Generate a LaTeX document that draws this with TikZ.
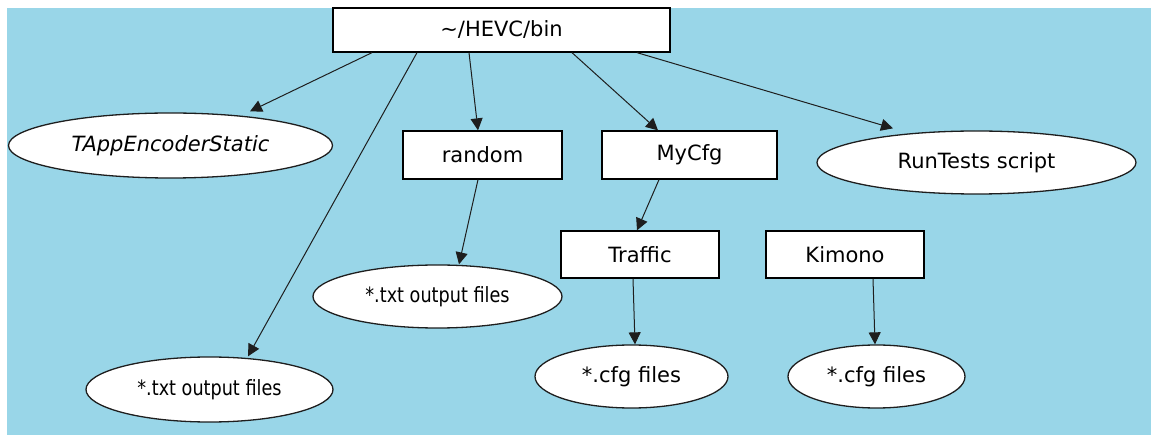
\documentclass[tikz,border=0pt]{standalone}
\usepackage{fontspec}
\usepackage{graphicx}
\setmainfont{DejaVu Sans}
\usetikzlibrary{shapes.geometric,arrows.meta}
\definecolor{bgblue}{RGB}{153,214,232}
\definecolor{edgegray}{RGB}{30,30,30}
\newcommand{\narrowtext}[1]{\scalebox{0.84}[1]{#1}}
\tikzset{
  folder/.style={draw=black, line width=1.3pt, fill=white, rectangle,
    inner sep=0pt, font=\fontsize{21}{25}\selectfont},
  fileset/.style={draw=edgegray, line width=1.3pt, fill=white, ellipse,
    inner sep=0pt, font=\fontsize{21}{25}\selectfont},
  link/.style={draw=edgegray, line width=1pt,
    -{Triangle[length=12pt,width=12pt]}}
}
\begin{document}
\begin{tikzpicture}[x=1pt,y=-1pt]
  \useasboundingbox (0,0) rectangle (1151,435);
  \fill[bgblue] (7,8) rectangle (1151,435);

  % directory tree
  \node[folder, minimum width=337pt, minimum height=44pt] (bin) at (501.5,30) {\textasciitilde/HEVC/bin};
  \node[fileset, minimum width=324pt, minimum height=65pt] (tapp) at (170.5,145.5) {\itshape TAppEncoderStatic};
  \node[folder, minimum width=159pt, minimum height=48pt] (random) at (482.5,155) {random};
  \node[folder, minimum width=175pt, minimum height=48pt] (mycfg) at (689.5,155) {MyCfg};
  \node[fileset, minimum width=319pt, minimum height=63pt] (runtests) at (976.5,162.5) {RunTests script};
  \node[fileset, minimum width=249pt, minimum height=63pt] (txtb) at (437.5,296.5) {\narrowtext{*.txt output files}};
  \node[folder, minimum width=158pt, minimum height=47pt] (traffic) at (640,254.5) {Traffic};
  \node[folder, minimum width=158pt, minimum height=47pt] (kimono) at (845,254.5) {Kimono};
  \node[fileset, minimum width=247pt, minimum height=65pt] (txta) at (209.5,389.5) {\narrowtext{*.txt output files}};
  \node[fileset, minimum width=193pt, minimum height=63pt] (cfga) at (631.5,376.5) {*.cfg files};
  \node[fileset, minimum width=177pt, minimum height=63pt] (cfgb) at (876.5,376.5) {*.cfg files};

  % connectors
  \draw[link] ([xshift=-129.5pt]bin.south) -- ([xshift=79.5pt,yshift=1pt]tapp.north);
  \draw[link] ([xshift=-84.5pt]bin.south) -- ([xshift=38.5pt]txta.north);
  \draw[link] ([xshift=-32.5pt]bin.south) -- ([xshift=-4.5pt]random.north);
  \draw[link] ([xshift=70.5pt]bin.south) -- ([xshift=-31.5pt]mycfg.north);
  \draw[link] ([xshift=135.5pt]bin.south) -- ([xshift=-83.5pt,yshift=2pt]runtests.north);
  \draw[link] ([xshift=-4.5pt]random.south) -- ([xshift=21.5pt]txtb.north);
  \draw[link] ([xshift=-30.5pt]mycfg.south) -- ([xshift=-3pt]traffic.north);
  \draw[link] ([xshift=-7pt]traffic.south) -- ([xshift=3.5pt]cfga.north);
  \draw[link] ([xshift=28pt]kimono.south) -- ([xshift=-1.5pt]cfgb.north);
\end{tikzpicture}
\end{document}
